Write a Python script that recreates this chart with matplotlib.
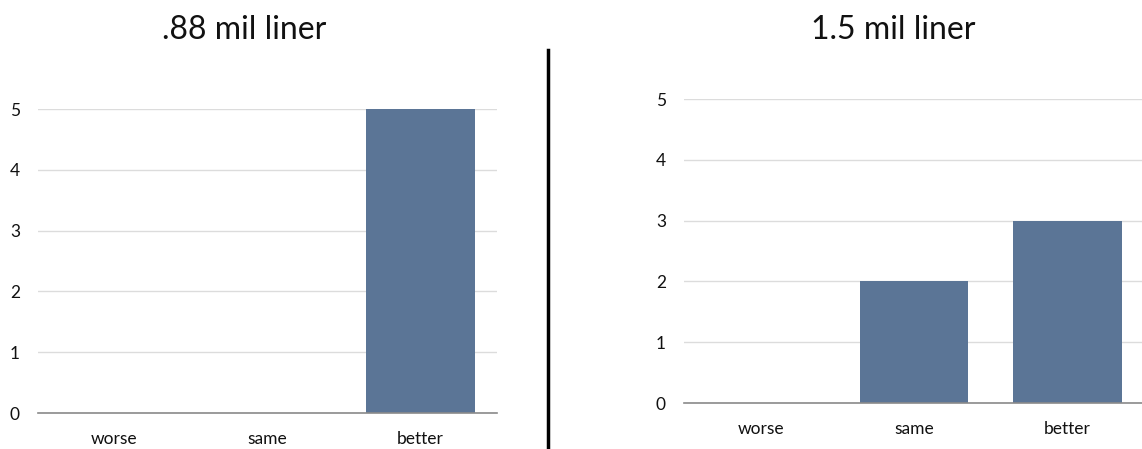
import matplotlib.pyplot as plt
from matplotlib.lines import Line2D

categories = ['worse', 'same', 'better']
thin_counts = [0, 0, 5]
thick_counts = [0, 2, 3]
titles = ['.88 mil liner', '1.5 mil liner']

plt.rcParams['font.family'] = ['Lato', 'DejaVu Sans']

W, H = 1142, 449
fig = plt.figure(figsize=(W / 100, H / 100), dpi=100)

def draw(ax, counts, title, title_x):
    x = range(len(categories))
    ax.bar(x, counts, width=0.71, color='#5b7596', zorder=2)
    ax.set_xlim(-0.5, 2.5)
    ax.set_ylim(0, 5)
    ax.set_yticks(range(6))
    ax.set_xticks(list(x))
    ax.set_xticklabels(categories)
    ax.grid(axis='y', color='#dcdcdc', linewidth=1, zorder=0)
    for s in ['top', 'right', 'left']:
        ax.spines[s].set_visible(False)
    ax.spines['bottom'].set_color('#8a8a8a')
    ax.spines['bottom'].set_linewidth(1.2)
    ax.tick_params(length=0, labelsize=12.5, colors='#111111')
    ax.tick_params(axis='y', pad=13)
    ax.tick_params(axis='x', pad=13)
    fig.text(title_x / W, 1 - 30 / H, title, ha='center', va='center',
             fontsize=23, color='#111111')

ax1 = fig.add_axes([38 / W, 36 / H, 459 / W, 304 / H])
draw(ax1, thin_counts, titles[0], 244)

ax2 = fig.add_axes([684 / W, 46 / H, 460 / W, 304 / H])
draw(ax2, thick_counts, titles[1], 893)

# divider between the two charts
fig.add_artist(Line2D([548 / W, 548 / W], [0, 1 - 50 / H], color='black',
                      linewidth=2.5, transform=fig.transFigure))

fig.savefig('out.png', dpi=100, facecolor='white')
